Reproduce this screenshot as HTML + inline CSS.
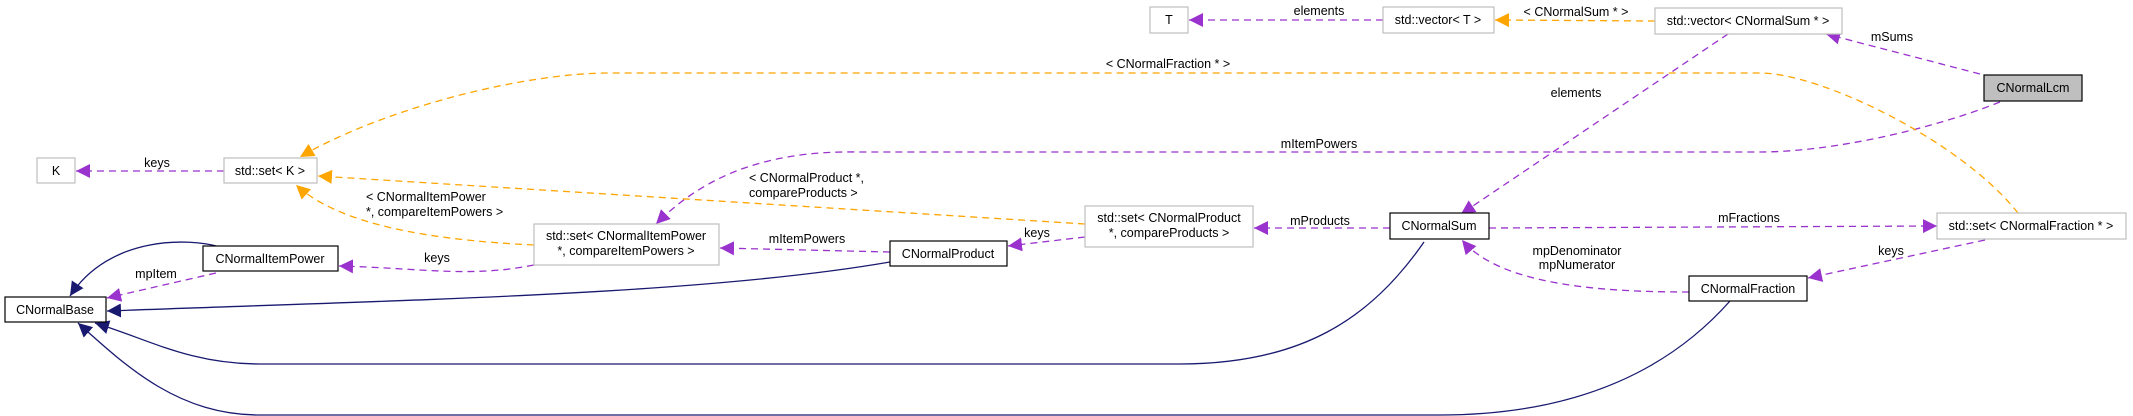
<!DOCTYPE html>
<html><head><meta charset="utf-8"><style>
html,body{margin:0;padding:0;background:#fff;}
svg{display:block;}
text{font-family:"Liberation Sans",sans-serif;font-size:12.5px;fill:#000;}
</style></head><body>
<svg width="2133" height="416" viewBox="0 0 2133 416" xmlns="http://www.w3.org/2000/svg">
<defs>
<marker id="ap" viewBox="0 0 10 10" refX="10" refY="5" markerWidth="14" markerHeight="14" markerUnits="userSpaceOnUse" orient="auto"><path d="M0,0 L10,5 L0,10 z" fill="#9a32cd"/></marker>
<marker id="ao" viewBox="0 0 10 10" refX="10" refY="5" markerWidth="14" markerHeight="14" markerUnits="userSpaceOnUse" orient="auto"><path d="M0,0 L10,5 L0,10 z" fill="#ffa500"/></marker>
<marker id="an" viewBox="0 0 10 10" refX="10" refY="5" markerWidth="14" markerHeight="14" markerUnits="userSpaceOnUse" orient="auto"><path d="M0,0 L10,5 L0,10 z" fill="#191970"/></marker>
</defs>
<g fill="none" stroke-width="1.3">
<!-- purple dashed -->
<g stroke="#9a32cd" stroke-dasharray="7,5">
<path d="M224,171 L76,171" marker-end="url(#ap)"/>
<path d="M1383,20 L1189,20" marker-end="url(#ap)"/>
<path d="M1980,74 L1826,34" marker-end="url(#ap)"/>
<path d="M1728,34 L1461,214" marker-end="url(#ap)"/>
<path d="M2000,102 C1930,130 1830,152 1760,152 L860,152 C760,150 700,180 656,224" marker-end="url(#ap)"/>
<path d="M534,265 C470,278 420,268 339,266" marker-end="url(#ap)"/>
<path d="M890,252 L720,248" marker-end="url(#ap)"/>
<path d="M1085,237 L1008,246" marker-end="url(#ap)"/>
<path d="M1390,228 L1254,228" marker-end="url(#ap)"/>
<path d="M1489,228 L1937,226" marker-end="url(#ap)"/>
<path d="M1689,292 C1600,292 1500,285 1462,240" marker-end="url(#ap)"/>
<path d="M1985,240 L1808,278" marker-end="url(#ap)"/>
<path d="M216,273 L107,298" marker-end="url(#ap)"/>
</g>
<!-- orange dashed -->
<g stroke="#ffa500" stroke-dasharray="7,5">
<path d="M1655,21 L1495,20" marker-end="url(#ao)"/>
<path d="M2018,213 C1960,140 1820,73 1760,73 L610,73 C520,73 380,110 300,157" marker-end="url(#ao)"/>
<path d="M1085,224 L318,176" marker-end="url(#ao)"/>
<path d="M534,245 C430,240 340,225 296,185" marker-end="url(#ao)"/>
</g>
<!-- navy solid -->
<g stroke="#191970">
<path d="M220,247 C190,238 110,235 70,296" marker-end="url(#an)"/>
<path d="M890,262 C700,295 400,300 107,311" marker-end="url(#an)"/>
<path d="M1424,242 C1370,320 1300,364 1180,364 L260,364 C190,364 150,340 95,323" marker-end="url(#an)"/>
<path d="M1730,301 C1660,380 1560,415 1440,415 L260,415 C180,415 130,370 78,323" marker-end="url(#an)"/>
</g>
</g>
<!-- nodes -->
<g stroke-width="1.2">
<rect x="37" y="158" width="38" height="25" fill="#fff" stroke="#bfbfbf"/>
<rect x="224" y="158" width="93" height="25" fill="#fff" stroke="#bfbfbf"/>
<rect x="203" y="246" width="135" height="25" fill="#fff" stroke="#000"/>
<rect x="5" y="297" width="101" height="25" fill="#fff" stroke="#000"/>
<rect x="534" y="224" width="185" height="41" fill="#fff" stroke="#bfbfbf"/>
<rect x="890" y="241" width="117" height="25" fill="#fff" stroke="#000"/>
<rect x="1150" y="7" width="38" height="26" fill="#fff" stroke="#bfbfbf"/>
<rect x="1383" y="7" width="111" height="26" fill="#fff" stroke="#bfbfbf"/>
<rect x="1655" y="8" width="187" height="26" fill="#fff" stroke="#bfbfbf"/>
<rect x="1984" y="75" width="98" height="26" fill="#bfbfbf" stroke="#000"/>
<rect x="1085" y="206" width="168" height="41" fill="#fff" stroke="#bfbfbf"/>
<rect x="1390" y="213" width="99" height="26" fill="#fff" stroke="#000"/>
<rect x="1937" y="213" width="189" height="26" fill="#fff" stroke="#bfbfbf"/>
<rect x="1689" y="276" width="118" height="25" fill="#fff" stroke="#000"/>
</g>
<g text-anchor="middle">
<text x="56" y="175">K</text>
<text x="270" y="175">std::set&lt; K &gt;</text>
<text x="270" y="263">CNormalItemPower</text>
<text x="55" y="314">CNormalBase</text>
<text x="626" y="240">std::set&lt; CNormalItemPower</text>
<text x="626" y="255">*, compareItemPowers &gt;</text>
<text x="948" y="258">CNormalProduct</text>
<text x="1169" y="24">T</text>
<text x="1438" y="24">std::vector&lt; T &gt;</text>
<text x="1748" y="25">std::vector&lt; CNormalSum * &gt;</text>
<text x="2033" y="92">CNormalLcm</text>
<text x="1169" y="222">std::set&lt; CNormalProduct</text>
<text x="1169" y="237">*, compareProducts &gt;</text>
<text x="1439" y="230">CNormalSum</text>
<text x="2031" y="230">std::set&lt; CNormalFraction * &gt;</text>
<text x="1748" y="293">CNormalFraction</text>
<!-- edge labels -->
<text x="157" y="167">keys</text>
<text x="156" y="278">mpItem</text>
<text x="437" y="262">keys</text>
<text x="807" y="243">mItemPowers</text>
<text x="1037" y="237">keys</text>
<text x="1319" y="15">elements</text>
<text x="1576" y="16">&lt; CNormalSum * &gt;</text>
<text x="1892" y="41">mSums</text>
<text x="1168" y="68">&lt; CNormalFraction * &gt;</text>
<text x="1576" y="97">elements</text>
<text x="1319" y="148">mItemPowers</text>
<text x="1320" y="225">mProducts</text>
<text x="1749" y="222">mFractions</text>
<text x="1577" y="255">mpDenominator</text>
<text x="1577" y="269">mpNumerator</text>
<text x="1891" y="255">keys</text>
</g>
<g text-anchor="start">
<text x="366" y="201">&lt; CNormalItemPower</text>
<text x="366" y="216">*, compareItemPowers &gt;</text>
<text x="749" y="182">&lt; CNormalProduct *,</text>
<text x="749" y="197">compareProducts &gt;</text>
</g>
</svg>
</body></html>
